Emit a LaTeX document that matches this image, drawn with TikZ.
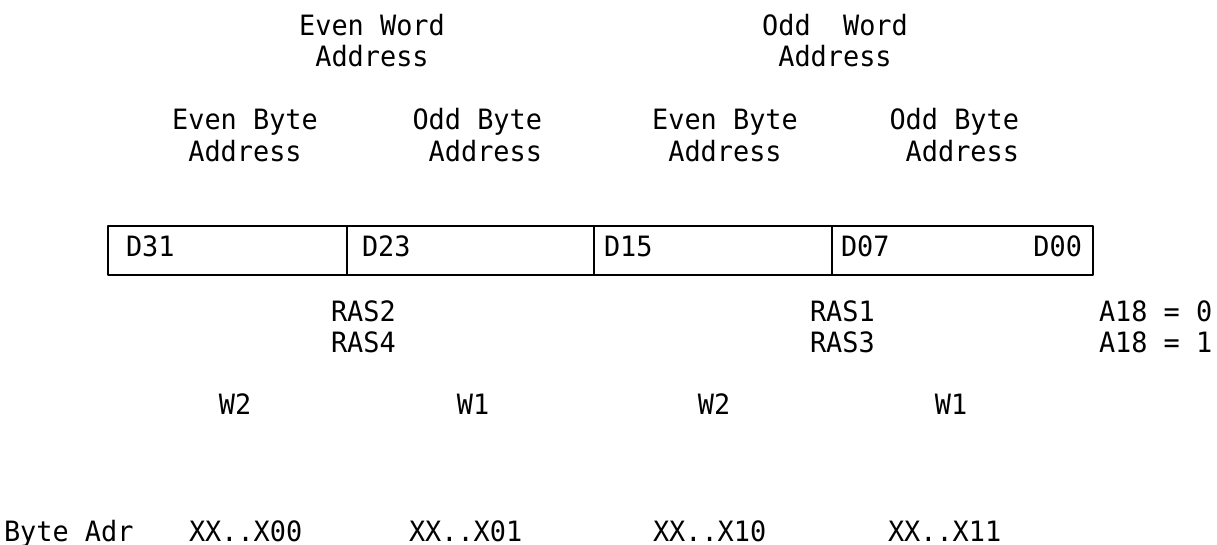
\documentclass[tikz,border=0pt]{standalone}
\usepackage{fontspec}
\setmainfont{DejaVu Sans Mono}[FakeStretch=0.96]
\begin{document}
\begin{tikzpicture}[x=0.5pt,y=-0.5pt,
  lbl/.style={inner sep=0pt,outer sep=0pt,font=\fontsize{14}{15.5}\selectfont},
  regline/.style={line width=1.4pt,line join=round}]
\useasboundingbox (0,0) rectangle (1217,545);
% header: word addresses
\node[lbl,anchor=base] (ew1) at (372,36) {Even Word};
\node[lbl,anchor=base] (ew2) at (372,67) {Address};
\node[lbl,anchor=base] (ow1) at (835,36) {Odd\ \ Word};
\node[lbl,anchor=base] (ow2) at (835,67) {Address};
% byte addresses
\node[lbl,anchor=base] (eb1a) at (245,130) {Even Byte};
\node[lbl,anchor=base] (eb1b) at (245,162) {Address};
\node[lbl,anchor=base east] (ob1a) at (542,130) {Odd Byte};
\node[lbl,anchor=base east] (ob1b) at (542,162) {Address};
\node[lbl,anchor=base] (eb2a) at (725,130) {Even Byte};
\node[lbl,anchor=base] (eb2b) at (725,162) {Address};
\node[lbl,anchor=base east] (ob2a) at (1019,130) {Odd Byte};
\node[lbl,anchor=base east] (ob2b) at (1019,162) {Address};
% register
\coordinate (rtl) at (108,226);
\coordinate (rbr) at (1093,275);
\draw[regline] (rtl) rectangle (rbr);
\draw[regline] (347,226) -- (347,275);
\draw[regline] (594,226) -- (594,275);
\draw[regline] (832,226) -- (832,275);
\node[lbl,anchor=base west] (d31) at (126,257) {D31};
\node[lbl,anchor=base west] (d23) at (362,257) {D23};
\node[lbl,anchor=base west] (d15) at (604,257) {D15};
\node[lbl,anchor=base west] (d07) at (841,257) {D07};
\node[lbl,anchor=base east] (d00) at (1082,257) {D00};
% RAS
\node[lbl,anchor=base west] (ras2) at (331,322) {RAS2};
\node[lbl,anchor=base west] (ras4) at (331,353) {RAS4};
\node[lbl,anchor=base west] (ras1) at (810,322) {RAS1};
\node[lbl,anchor=base west] (ras3) at (810,353) {RAS3};
\node[lbl,anchor=base west] (a0) at (1099,322) {A18 = 0};
\node[lbl,anchor=base west] (a1) at (1099,353) {A18 = 1};
% W
\node[lbl,anchor=base] (w2a) at (235,415) {W2};
\node[lbl,anchor=base] (w1a) at (473,415) {W1};
\node[lbl,anchor=base] (w2b) at (714,415) {W2};
\node[lbl,anchor=base] (w1b) at (951,415) {W1};
% byte adr
\node[lbl,anchor=base west] (badr) at (4,541) {Byte Adr};
\node[lbl,anchor=base west] (x00) at (189,541) {XX..X00};
\node[lbl,anchor=base west] (x01) at (409,541) {XX..X01};
\node[lbl,anchor=base west] (x10) at (653,541) {XX..X10};
\node[lbl,anchor=base west] (x11) at (888,541) {XX..X11};
\end{tikzpicture}
\end{document}
